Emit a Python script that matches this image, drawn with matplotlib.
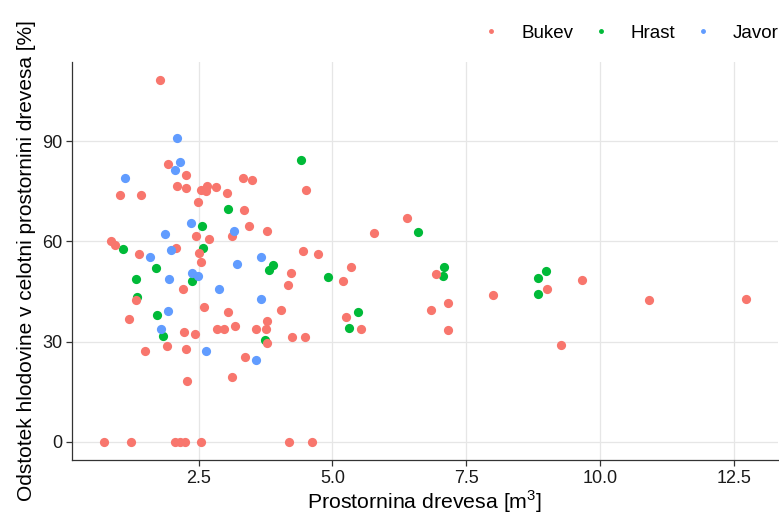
import numpy as np
import matplotlib
matplotlib.use("Agg")
import matplotlib.pyplot as plt
from matplotlib.lines import Line2D

plt.rcParams['font.family'] = ['Liberation Sans', 'DejaVu Sans']
plt.rcParams['mathtext.fontset'] = 'custom'
plt.rcParams['mathtext.rm'] = 'Liberation Sans'

# Bukev
bukev_x = [1.78, 1.92, 2.27, 2.09, 2.27, 2.65, 2.55, 2.64, 2.83, 1.03, 1.42, 3.02, 2.49, 3.33, 3.50,
           4.51, 3.35, 3.44, 3.78, 3.13, 2.44, 2.70, 0.85, 0.94, 2.07, 2.51, 4.45, 4.73, 1.38, 2.54,
           4.22, 2.21, 4.17, 1.33, 2.60, 3.04, 4.04, 1.20, 3.77, 2.85, 2.98, 3.18, 3.57, 3.75, 2.23,
           2.43, 3.77, 4.25, 4.48, 1.91, 1.49, 2.26, 3.37, 3.13, 2.28,
           0.73, 1.23, 2.05, 2.14, 2.25, 2.55, 4.18, 4.62,
           6.39, 5.78, 5.35, 5.20, 6.94, 7.16, 6.85, 7.16, 5.26, 5.53, 9.02, 9.66, 8.00, 9.28,
           10.92, 12.73]
bukev_y = [108.3, 83.1, 79.8, 76.5, 76.0, 76.7, 75.3, 75.1, 76.4, 73.8, 74.0, 74.5, 71.9, 79.1, 78.5,
           75.5, 69.3, 64.7, 63.0, 61.6, 61.5, 60.6, 60.1, 58.8, 58.1, 56.4, 57.0, 56.2, 56.1, 54.0,
           50.5, 45.7, 47.1, 42.6, 40.5, 38.9, 39.4, 36.9, 36.1, 33.8, 33.7, 34.7, 33.8, 33.9, 32.8,
           32.4, 29.6, 31.4, 31.3, 28.8, 27.1, 27.7, 25.4, 19.5, 18.1,
           0, 0, 0, 0, 0, 0, 0, 0,
           67.1, 62.4, 52.3, 48.3, 50.2, 41.7, 39.6, 33.6, 37.4, 33.7, 45.7, 48.5, 43.9, 29.0,
           42.6, 42.7]

# Hrast
hrast_x = [4.42, 3.04, 2.56, 1.08, 2.57, 3.88, 3.82, 1.70, 1.33, 2.37, 1.34, 1.71, 1.83, 3.74,
           6.60, 4.91, 7.08, 7.06, 5.47, 5.31, 9.00, 8.85, 8.85]
hrast_y = [84.3, 69.8, 64.7, 57.6, 58.0, 52.9, 51.6, 52.1, 48.7, 48.2, 43.4, 38.1, 31.7, 30.4,
           62.8, 49.5, 52.5, 49.7, 39.0, 34.0, 51.3, 49.0, 44.3]

# Javor
javor_x = [2.085, 2.15, 2.06, 1.13, 2.36, 3.15, 1.87, 1.98, 1.58, 3.66, 3.21, 1.95, 2.37, 2.48,
           2.88, 3.66, 1.92, 1.79, 2.64, 3.57]
javor_y = [90.9, 83.8, 81.3, 78.9, 65.6, 63.1, 62.3, 57.4, 55.3, 55.2, 53.4, 48.9, 50.5, 49.6,
           45.8, 42.8, 39.2, 33.9, 27.2, 24.6]

species = ["Bukev", "Hrast", "Javor"]
colors = ["#F8766D", "#00BA38", "#619CFF"]

fig = plt.figure(figsize=(7.79, 5.2), dpi=100)
ax = fig.add_axes([72/779, 60/520, 706/779, 398/520])

ax.scatter(hrast_x, hrast_y, s=44, color=colors[1], linewidths=0, zorder=3)
ax.scatter(bukev_x, bukev_y, s=44, color=colors[0], linewidths=0, zorder=3)
ax.scatter(javor_x, javor_y, s=44, color=colors[2], linewidths=0, zorder=3)

allx = bukev_x + hrast_x + javor_x
ally = bukev_y + hrast_y + javor_y
dx = (max(allx) - min(allx)) * 0.05
dy = (max(ally) - min(ally)) * 0.05
ax.set_xlim(min(allx) - dx, max(allx) + dx)
ax.set_ylim(min(ally) - dy, max(ally) + dy)

ax.set_xticks([2.5, 5.0, 7.5, 10.0, 12.5])
ax.set_yticks([0, 30, 60, 90])
ax.grid(True, color="#e6e6e6", linewidth=0.9)
ax.set_axisbelow(True)
for s in ["top", "right"]:
    ax.spines[s].set_visible(False)
for s in ["left", "bottom"]:
    ax.spines[s].set_color("#333333")
    ax.spines[s].set_linewidth(0.9)
ax.tick_params(axis="both", length=4, width=0.9, color="#333333", labelsize=13,
               labelcolor="#1a1a1a", pad=3)

ax.set_xlabel("Prostornina drevesa [m$^3$]", fontsize=15.3, labelpad=1)
ax.set_ylabel("Odstotek hlodovine v celotni prostornini drevesa [%]", fontsize=15, labelpad=4)

handles = [Line2D([], [], marker="o", linestyle="none", color=c, markersize=2.5) for c in colors]
fig.legend(handles, species, loc="center right", bbox_to_anchor=(1.0, 1 - 33/520),
           ncol=3, frameon=False, fontsize=13.5, handlelength=1.7, handletextpad=0.75,
           columnspacing=0.62, borderaxespad=0, borderpad=0)

fig.savefig("out.png", dpi=100)
